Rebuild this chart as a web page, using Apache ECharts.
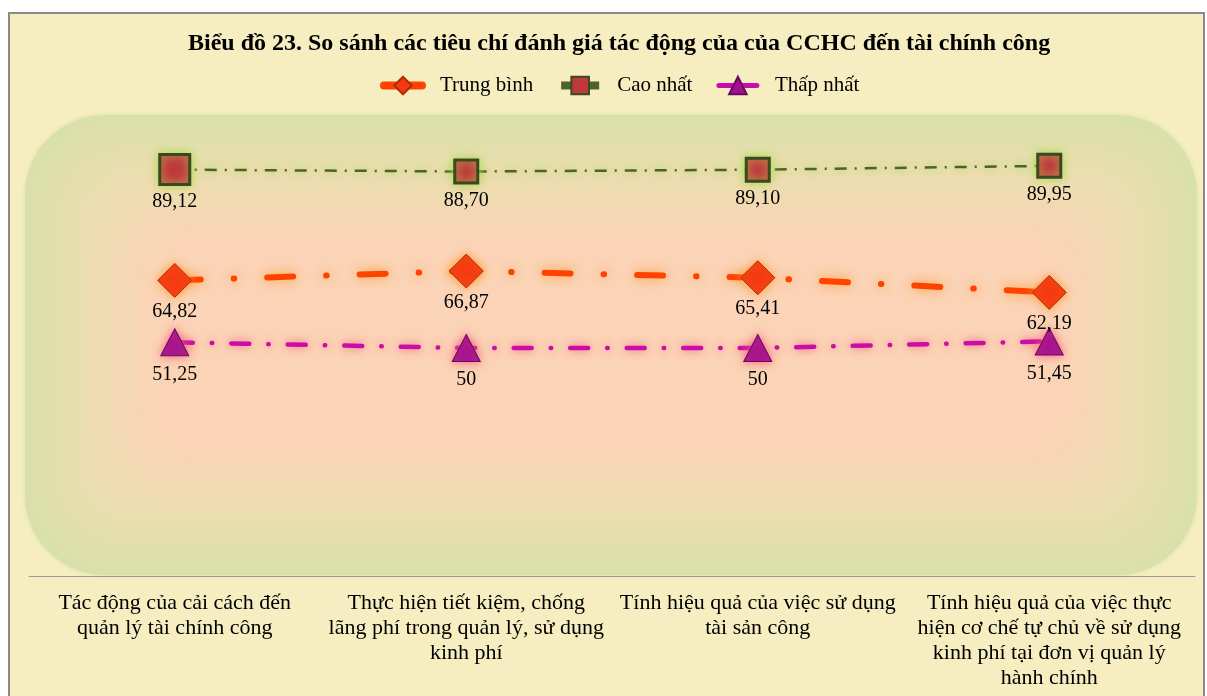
<!DOCTYPE html>
<html>
<head>
<meta charset="utf-8">
<script src="https://cdn.jsdelivr.net/npm/echarts@6/dist/echarts.min.js"></script>
<style>
  html, body { margin: 0; padding: 0; background: #fff; }
  #chart { width: 1207px; height: 696px; }
</style>
</head>
<body>
<div id="chart"></div>
<script>
const categories = [
  'Tác động của cải cách đến\nquản lý tài chính công',
  'Thực hiện tiết kiệm, chống\nlãng phí trong quản lý, sử dụng\nkinh phí',
  'Tính hiệu quả của việc sử dụng\ntài sản công',
  'Tính hiệu quả của việc thực\nhiện cơ chế tự chủ về sử dụng\nkinh phí tại đơn vị quản lý\nhành chính'
];
const trungBinh = [64.82, 66.87, 65.41, 62.19];
const caoNhat = [89.12, 88.70, 89.10, 89.95];
const thapNhat = [51.25, 50, 50, 51.45];

const serif = '"Liberation Serif", "Times New Roman", serif';

// số kiểu Việt Nam: dấu phẩy thập phân
const fmt = (p) => Number.isInteger(p.value) ? String(p.value) : p.value.toFixed(2).replace('.', ',');

// nền vùng vẽ: các hình chữ nhật bo góc lồng nhau, xanh ở viền -> hồng đào ở giữa
function mix(a, b, t) {
  const pa = a.match(/\w\w/g).map(h => parseInt(h, 16));
  const pb = b.match(/\w\w/g).map(h => parseInt(h, 16));
  return 'rgb(' + pa.map((v, i) => Math.round(v + (pb[i] - v) * t)).join(',') + ')';
}
const bgLayers = [];
const N = 14;
for (let i = 0; i < N; i++) {
  const t = i / (N - 1);
  const inset = i * 10;
  const col = t < 0.5 ? mix('DAE0AA', 'EDDDB1', t * 2) : mix('EDDDB1', 'FBD3B6', (t - 0.5) * 2);
  bgLayers.push({
    type: 'rect', z: -9 + i * 0.01, silent: true,
    shape: { x: 25 + inset, y: 115 + inset, width: 1172 - inset * 2, height: 460 - inset * 2,
      r: Math.max(80 - inset * 0.3, 30) },
    style: { fill: col, shadowBlur: i === 0 ? 5 : 10, shadowColor: col }
  });
}

const chart = echarts.init(document.getElementById('chart'));

chart.setOption({
  backgroundColor: '#ffffff',
  graphic: [
    { type: 'rect', z: -10, silent: true, shape: { x: 9, y: 13, width: 1195, height: 700 },
      style: { fill: '#F6EEC0', stroke: '#8a8a8a', lineWidth: 2 } }
  ].concat(bgLayers),
  title: {
    text: 'Biểu đồ 23. So sánh các tiêu chí đánh giá tác động của của CCHC đến tài chính công',
    left: 183,
    top: 27,
    textStyle: { fontFamily: serif, fontSize: 24, fontWeight: 'bold', color: '#000' }
  },
  legend: {
    top: 70,
    left: 375,
    itemWidth: 38,
    itemHeight: 22,
    itemGap: 24,
    textStyle: { fontFamily: serif, fontSize: 21, color: '#000', padding: [0, 0, 0, 13] },
    data: [
      { name: 'Trung bình', lineStyle: { width: 8, type: 'solid' } },
      { name: 'Cao nhất', lineStyle: { width: 8, type: 'solid' } },
      { name: 'Thấp nhất', lineStyle: { width: 5, type: 'solid' } }
    ]
  },
  grid: { left: 29, right: 12, top: 120, bottom: 120, containLabel: false },
  xAxis: {
    type: 'category',
    data: categories,
    boundaryGap: true,
    axisLine: { lineStyle: { color: '#9a9a9a', width: 1 } },
    axisTick: { show: false },
    axisLabel: {
      interval: 0,
      margin: 15,
      fontFamily: serif,
      fontSize: 22,
      lineHeight: 25,
      color: '#000'
    }
  },
  yAxis: { type: 'value', min: 0, max: 100, show: false, splitLine: { show: false } },
  series: [
    {
      name: 'Trung bình',
      type: 'line',
      data: trungBinh,
      symbol: 'diamond',
      symbolSize: 34,
      z: 3,
      lineStyle: { color: '#FF4200', width: 6, type: [26, 33, 0.5, 33], cap: 'round',
        shadowBlur: 12, shadowColor: '#FF9A30' },
      itemStyle: { color: '#F43A10', borderColor: '#B02A08', borderWidth: 1,
        shadowBlur: 10, shadowColor: '#FF9A30' },
      label: { show: true, position: 'bottom', distance: 4, formatter: fmt,
        fontFamily: serif, fontSize: 20, color: '#000' }
    },
    {
      name: 'Cao nhất',
      type: 'line',
      data: caoNhat,
      symbol: 'rect',
      symbolSize: (v, p) => p.dataIndex === 0 ? 30 : 23,
      z: 3,
      lineStyle: { color: '#4F6228', width: 2.5, type: [12, 8, 2, 8],
        shadowBlur: 8, shadowColor: '#9FD63C' },
      itemStyle: { color: '#C0373F', borderColor: '#3A4A20', borderWidth: 3,
        shadowBlur: 10, shadowColor: '#A8DA4A' },
      label: { show: true, position: 'bottom', distance: 6, formatter: fmt,
        fontFamily: serif, fontSize: 20, color: '#000' }
    },
    {
      name: 'Thấp nhất',
      type: 'line',
      data: thapNhat,
      symbol: 'triangle',
      symbolSize: [28, 27],
      z: 3,
      lineStyle: { color: '#CC0CA8', width: 4.5, type: [18, 19, 0.5, 19], cap: 'round',
        shadowBlur: 10, shadowColor: '#F0607A' },
      itemStyle: { color: '#A3108F', borderColor: '#6A0860', borderWidth: 1,
        shadowBlur: 10, shadowColor: '#F0607A' },
      label: { show: true, position: 'bottom', distance: 8, formatter: fmt,
        fontFamily: serif, fontSize: 20, color: '#000' }
    }
  ]
});
</script>
</body>
</html>
